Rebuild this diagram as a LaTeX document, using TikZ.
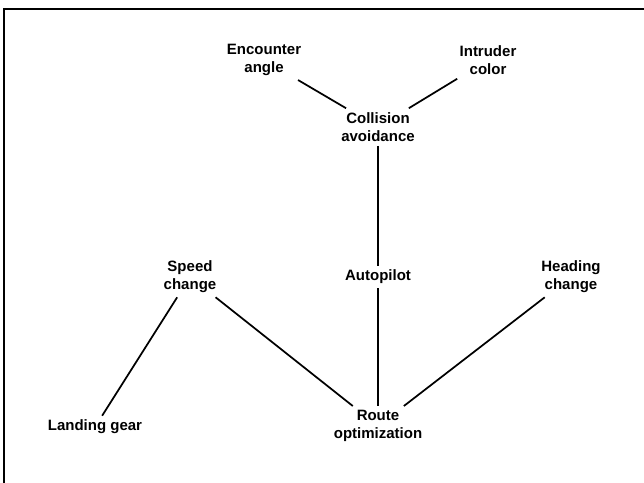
\documentclass[tikz,border=0pt]{standalone}
\usepackage{fontspec}
\setmainfont{Liberation Sans}
\usepackage{tikz}

\begin{document}
\begin{tikzpicture}[x=0.75pt,y=-0.75pt,
    every node/.style={font=\fontsize{11.25}{13.5}\selectfont\bfseries, align=center, inner sep=3pt},
    link/.style={line width=1.3pt}]

\useasboundingbox (0,0) rectangle (644,483);

% Rahmen (nur oben und links sichtbar)
\draw[line width=1.5pt] (4,483) -- (4,9) -- (644,9);

% Begriffe
\node (enc)   at (264,60)  {Encounter\\angle};
\node (intr)  at (488,60)  {Intruder\\color};
\node (coll)  at (378,127) {Collision\\avoidance};
\node (auto)  at (378,277) {Autopilot};
\node (speed) at (190,277) {Speed\\change};
\node (head)  at (571,277) {Heading\\change};
\node (land)  at (95,427)  {Landing gear};
\node (route) at (378,426) {Route\\optimization};

% Verbindungen
\draw[link] (enc) -- (coll);
\draw[link] (intr) -- (coll);
\draw[link] (coll) -- (auto);
\draw[link] (auto) -- (route);
\draw[link] (speed) -- (land);
\draw[link] (speed) -- (route);
\draw[link] (head) -- (route);

\end{tikzpicture}
\end{document}
